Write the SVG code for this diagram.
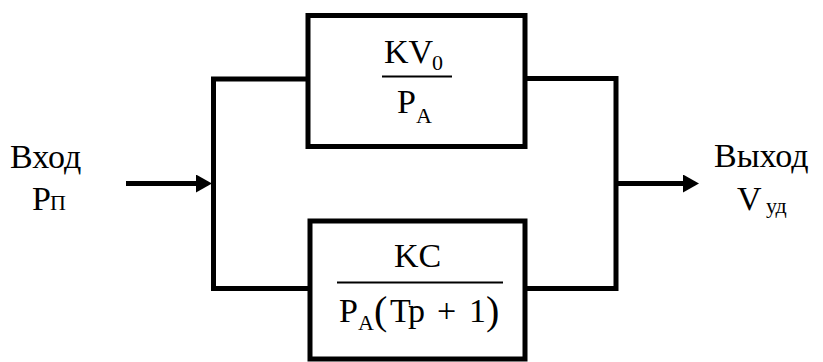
<svg xmlns="http://www.w3.org/2000/svg" width="823" height="362" viewBox="0 0 823 362">
  <style>
    .wire { fill: none; stroke: #000; stroke-width: 5; stroke-linecap: square; }
    .arrow { fill: none; stroke: #000; stroke-width: 5; stroke-linecap: butt; }
    .box { fill: #fff; stroke: #000; stroke-width: 5; }
    .bar { stroke: #000; stroke-width: 2; }
  </style>
  <defs>
    <marker id="head" markerUnits="userSpaceOnUse" markerWidth="16" markerHeight="18" refX="0" refY="9" orient="auto">
      <path d="M0,0 L16,9 L0,18 z" fill="#000"/>
    </marker>
  </defs>

  <!-- connectors -->
  <g id="connectors">
    <path class="wire" d="M308,79 H213.5 V288.5 H310"/>
    <path class="wire" d="M525,78.5 H616 V288.5 H525"/>
    <line class="arrow" x1="126" y1="183.5" x2="196" y2="183.5" marker-end="url(#head)"/>
    <line class="arrow" x1="618" y1="183.5" x2="683" y2="183.5" marker-end="url(#head)"/>
  </g>

  <!-- input label -->
  <g id="input">
    <text x="10" y="168" font-family="Liberation Serif" font-size="34">Вход</text>
    <text x="32" y="210" font-family="Liberation Serif" font-size="34">P</text>
    <text x="50" y="210" font-family="Liberation Serif" font-size="22">П</text>
  </g>

  <!-- output label -->
  <g id="output">
    <text x="714" y="167" font-family="Liberation Serif" font-size="34">Выход</text>
    <text x="737" y="210" font-family="Liberation Serif" font-size="34">V</text>
    <text x="766" y="213" font-family="Liberation Serif" font-size="22">уд</text>
  </g>

  <!-- upper block: KV0 / PA -->
  <g id="block-upper">
    <rect class="box" x="308" y="15.5" width="217" height="131"/>
    <line class="bar" x1="382" y1="76.5" x2="452" y2="76.5"/>
    <text x="384" y="63" font-family="Liberation Serif" font-size="34">KV</text>
    <text x="432" y="70" font-family="Liberation Serif" font-size="22">0</text>
    <text x="397" y="113" font-family="Liberation Serif" font-size="34">P</text>
    <text x="416" y="123" font-family="Liberation Serif" font-size="22">A</text>
  </g>

  <!-- lower block: KC / PA(Tp+1) -->
  <g id="block-lower">
    <rect class="box" x="310" y="221" width="215" height="138"/>
    <line class="bar" x1="337" y1="282.5" x2="503" y2="282.5"/>
    <text x="394" y="266.5" font-family="Liberation Serif" font-size="34">KC</text>
    <text x="339" y="321.5" font-family="Liberation Serif" font-size="34">P</text>
    <text x="358" y="330" font-family="Liberation Serif" font-size="22">A</text>
    <text x="374" y="324" font-family="Liberation Serif" font-size="40">(</text>
    <text x="390" y="321.5" font-family="Liberation Serif" font-size="34">T</text>
    <text x="408" y="321.5" font-family="Liberation Serif" font-size="34">p</text>
    <text x="437" y="321.5" font-family="Liberation Serif" font-size="34">+</text>
    <text x="469" y="321.5" font-family="Liberation Serif" font-size="34">1</text>
    <text x="486" y="324" font-family="Liberation Serif" font-size="40">)</text>
  </g>
</svg>
